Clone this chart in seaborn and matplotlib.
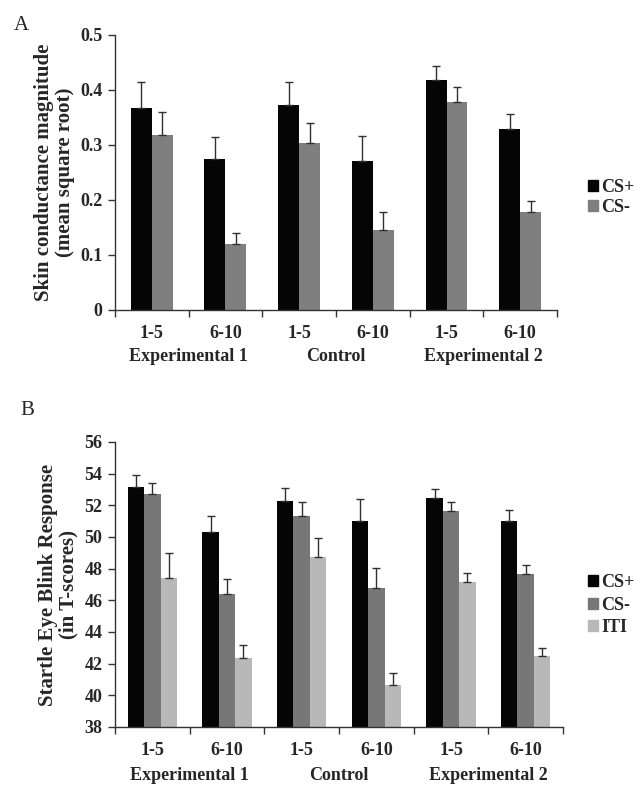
import numpy as np
import pandas as pd
import seaborn as sns
import matplotlib.pyplot as plt

# categories
groups = ['Experimental 1', 'Control', 'Experimental 2']
blocks = ['1-5', '6-10', '1-5', '6-10', '1-5', '6-10']
conds = ['E1 1-5', 'E1 6-10', 'C 1-5', 'C 6-10', 'E2 1-5', 'E2 6-10']

# panel A: skin conductance
scr_cs_plus = [0.368, 0.274, 0.373, 0.271, 0.419, 0.329]
scr_cs_plus_se = [0.047, 0.041, 0.042, 0.045, 0.025, 0.027]
scr_cs_minus = [0.318, 0.120, 0.303, 0.145, 0.379, 0.178]
scr_cs_minus_se = [0.042, 0.020, 0.037, 0.034, 0.026, 0.020]

# panel B: startle eye blink
eb_cs_plus = [53.14, 50.34, 52.28, 51.03, 52.45, 51.03]
eb_cs_plus_se = [0.78, 1.01, 0.80, 1.35, 0.57, 0.68]
eb_cs_minus = [52.72, 46.38, 51.33, 46.76, 51.67, 47.66]
eb_cs_minus_se = [0.67, 0.95, 0.91, 1.30, 0.53, 0.57]
eb_iti = [47.43, 42.34, 48.76, 40.65, 47.14, 42.50]
eb_iti_se = [1.55, 0.84, 1.20, 0.74, 0.61, 0.50]

sns.set_style('white')
plt.rcParams['font.family'] = ['Liberation Serif', 'DejaVu Serif']
plt.rcParams['font.weight'] = 'bold'
plt.rcParams['axes.labelweight'] = 'bold'

fig = plt.figure(figsize=(6.36, 7.86), dpi=100)
axA = fig.add_axes([0.1808, 0.6056, 0.695, 0.3499])
axB = fig.add_axes([0.1808, 0.0751, 0.7044, 0.3626])


def make_df(series, names):
    rows = []
    for vals, ses, name in zip(series[0], series[1], names):
        for c, v, s in zip(conds, vals, ses):
            rows.append({'cond': c, 'stim': name, 'value': v, 'se': s})
    return pd.DataFrame(rows)


def draw(ax, df, names, colors, width, ylim, yticks, ylabel, group_y):
    sns.barplot(data=df, x='cond', y='value', hue='stim', order=conds,
                hue_order=names, palette=colors, width=width, saturation=1,
                errorbar=None, ax=ax, linewidth=0)
    # top-only error bars from each bar container
    for cont, name in zip(ax.containers, names):
        sub = df[df['stim'] == name].set_index('cond').loc[conds]
        xs = [p.get_x() + p.get_width() / 2 for p in cont.patches]
        ax.errorbar(xs, sub['value'], yerr=[np.zeros(len(xs)), sub['se']],
                    fmt='none', ecolor='#303030', elinewidth=1.0,
                    capsize=3, capthick=1.0)
    ax.set_xlim(-0.5, 5.5)
    ax.set_ylim(*ylim)
    ax.set_yticks(yticks)
    ax.set_xticks(range(6))
    ax.set_xticklabels(blocks)
    ax.set_xticks(np.arange(-0.5, 6, 1), minor=True)
    ax.tick_params(axis='x', which='major', length=0, pad=11, labelsize=13)
    ax.tick_params(axis='x', which='minor', length=5, width=1, direction='out',
                   bottom=True, color='#333333')
    ax.tick_params(axis='y', length=5, width=1, direction='out', left=True,
                   labelsize=13, pad=4, color='#333333')
    for s in ['top', 'right']:
        ax.spines[s].set_visible(False)
    for s in ['left', 'bottom']:
        ax.spines[s].set_color('#333333')
        ax.spines[s].set_linewidth(1.0)
    ax.set_xlabel('')
    ax.set_ylabel(ylabel, fontsize=15, fontweight='bold', linespacing=1.05,
                  labelpad=4)
    for i, g in enumerate(groups):
        ax.text(2 * i + 0.5, group_y, g, transform=ax.get_xaxis_transform(),
                ha='center', va='center', fontsize=13, fontweight='bold')
    ax.get_legend().remove()


namesA = ['CS+', 'CS-']
colorsA = ['#050505', '#7f7f7f']
dfA = make_df(([scr_cs_plus, scr_cs_minus], [scr_cs_plus_se, scr_cs_minus_se]), namesA)
draw(axA, dfA, namesA, colorsA, 0.57, (0, 0.5),
     [0, 0.1, 0.2, 0.3, 0.4, 0.5],
     'Skin conductance magnitude\n(mean square root)', -0.17)
axA.set_yticklabels(['0', '0.1', '0.2', '0.3', '0.4', '0.5'])

namesB = ['CS+', 'CS-', 'ITI']
colorsB = ['#050505', '#777777', '#b8b8b8']
dfB = make_df(([eb_cs_plus, eb_cs_minus, eb_iti],
               [eb_cs_plus_se, eb_cs_minus_se, eb_iti_se]), namesB)
draw(axB, dfB, namesB, colorsB, 0.66, (38, 56),
     list(range(38, 57, 2)),
     'Startle Eye Blink Response\n(in T-scores)', -0.172)

# legends
fig.legend(handles=[plt.Rectangle((0, 0), 1, 1, color=c) for c in colorsA],
           labels=namesA, loc='center left', bbox_to_anchor=(0.925, 0.749),
           frameon=False, fontsize=13, handlelength=0.55, handleheight=0.55,
           handletextpad=0.15, labelspacing=0.15, borderpad=0, borderaxespad=0)
fig.legend(handles=[plt.Rectangle((0, 0), 1, 1, color=c) for c in colorsB],
           labels=namesB, loc='center left', bbox_to_anchor=(0.925, 0.230),
           frameon=False, fontsize=13, handlelength=0.55, handleheight=0.55,
           handletextpad=0.15, labelspacing=0.3, borderpad=0, borderaxespad=0)

fig.text(0.022, 0.968, 'A', fontsize=15, fontweight='normal', va='center')
fig.text(0.032, 0.478, 'B', fontsize=15, fontweight='normal', va='center')

fig.savefig('out.png', dpi=100, facecolor='white')
